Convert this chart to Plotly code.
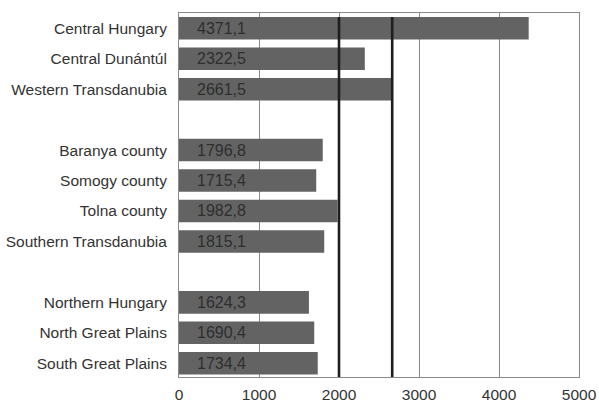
import plotly.graph_objects as go

# Regions grouped into three blocks; blank entries leave a gap between blocks
regions = [
    "Central Hungary", "Central Dunántúl", "Western Transdanubia", " ",
    "Baranya county", "Somogy county", "Tolna county", "Southern Transdanubia", "  ",
    "Northern Hungary", "North Great Plains", "South Great Plains",
]
values = [4371.1, 2322.5, 2661.5, None,
          1796.8, 1715.4, 1982.8, 1815.1, None,
          1624.3, 1690.4, 1734.4]

x_ticks = [0, 1000, 2000, 3000, 4000, 5000]
reference_lines = [2000, 2665]

BAR = "#636363"
TEXT = "#333333"
FONT = "Liberation Sans, Arial, sans-serif"

fig = go.Figure()
fig.add_trace(go.Bar(
    y=regions, x=values, orientation="h",
    marker=dict(color=BAR, line=dict(width=0)),
    width=0.74, hoverinfo="skip",
))

# Value labels placed near the start of each bar
for r, v in zip(regions, values):
    if v is None:
        continue
    fig.add_annotation(
        x=0, y=r, xref="x", yref="y", text=f"{v:.1f}".replace(".", ","),
        showarrow=False, xanchor="left", xshift=16,
        font=dict(family=FONT, size=16, color="#2e2e2e"),
    )

# Heavy reference lines from the top of the first bar down to the axis
for xv in reference_lines:
    fig.add_shape(
        type="line", x0=xv, x1=xv, xref="x", yref="y",
        y0=-0.37, y1=11.45, layer="above",
        line=dict(color="#1e1e1e", width=2.6),
    )

fig.update_layout(
    width=599, height=402,
    margin=dict(l=179, r=20, t=13, b=25),
    paper_bgcolor="white", plot_bgcolor="white",
    showlegend=False, bargap=0.26,
    font=dict(family=FONT, size=15, color=TEXT),
)
fig.update_xaxes(
    range=[0, 5000], tickvals=x_ticks, ticktext=[str(t) for t in x_ticks],
    showgrid=True, gridcolor="#8a8a8a", gridwidth=1,
    showline=True, linecolor="#8a8a8a", linewidth=1, mirror=True,
    zeroline=False, ticks="", automargin=False, ticklabelstandoff=3,
    tickfont=dict(size=15.5, color=TEXT),
)
fig.update_yaxes(
    type="category", categoryorder="array", categoryarray=regions,
    range=[11.45, -0.5], showgrid=False, automargin=False,
    showline=True, linecolor="#8a8a8a", linewidth=1, mirror=True,
    ticks="", ticklabelstandoff=8,
    tickfont=dict(size=15.5, color=TEXT),
)

fig.write_html("out.html")
